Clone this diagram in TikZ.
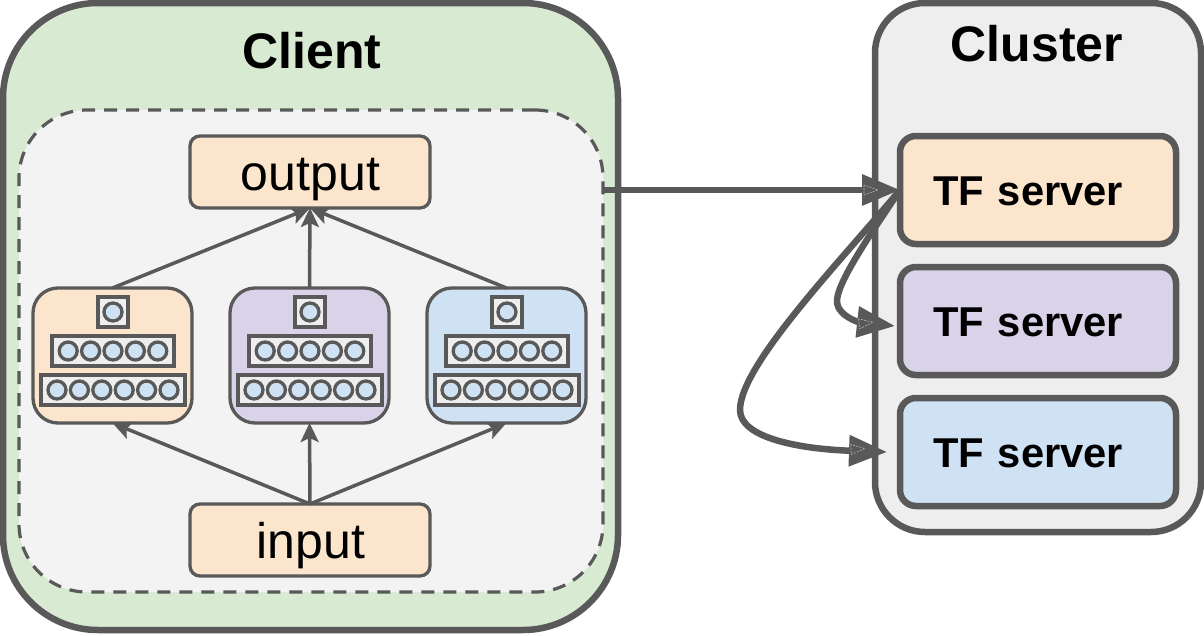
\documentclass[tikz,border=0pt]{standalone}
\usepackage{fontspec}
\setmainfont{Liberation Sans}
\usetikzlibrary{arrows.meta}
\definecolor{ink}{HTML}{595959}
\definecolor{clientgreen}{HTML}{D9EAD3}
\definecolor{panelgray}{HTML}{F3F3F3}
\definecolor{clustergray}{HTML}{EEEEEE}
\definecolor{peach}{HTML}{FCE5CD}
\definecolor{lilac}{HTML}{D9D2E9}
\definecolor{skyblue}{HTML}{CFE2F3}
\newcommand{\rbox}[7]{\node[#1,minimum width=#4-#3,minimum height=#6-#5] (#2) at ({(#3+#4)/2},{(#5+#6)/2}) {#7};}
\newcommand{\headmark}[3]{\draw[white!55!ink,line width=0.6pt,dash pattern=on 2pt off 1.2pt,shift={(#1,#2)},rotate=#3] (-7,-5) -- (-7,5) -- (7,0) -- cycle;}
\tikzset{
  x=1pt,y=-1pt,
  base/.style={draw=ink,inner sep=0pt,outer sep=0pt},
  outerbox/.style={base,line width=6.5pt,rounded corners=#1},
  dashedpanel/.style={base,line width=3.2pt,dash pattern=on 13pt off 9pt,fill=panelgray,rounded corners=68pt},
  iobox/.style={base,line width=3.3pt,rounded corners=10pt,fill=peach,font=\fontsize{50}{60}\selectfont,text height=36pt,text depth=0pt},
  netbox/.style={base,line width=3.3pt,rounded corners=25pt},
  serverbox/.style={base,line width=6.5pt,rounded corners=16pt,font=\fontsize{41.7}{50}\selectfont\bfseries,text height=30pt,text depth=0pt,text width=254pt,align=left},
  layerbox/.style={base,line width=3.5pt,fill=clustergray},
  neuron/.style={base,circle,line width=3.3pt,fill=skyblue,minimum size=18pt},
  title/.style={inner sep=0pt,font=\fontsize{50}{60}\selectfont\bfseries},
  thin link/.style={draw=ink,line width=3.5pt,-{Stealth[length=19pt,width=18pt,inset=4pt]}},
  thick link/.style={draw=ink,line width=6.5pt,-{Triangle[length=38pt,width=30pt]}},
}
\newcommand{\netcontents}[2]{%
  \node[layerbox,minimum width=30pt,minimum height=30pt] (#2a) at (#1,312) {};
  \node[neuron] (#2n) at (#1,312) {};
  \node[layerbox,minimum width=122pt,minimum height=30pt] (#2b) at (#1,351) {};
  \foreach \k in {-2,...,2} {\node[neuron] (#2b\k) at ({#1+\k*22.4},351) {};}
  \node[layerbox,minimum width=144pt,minimum height=30pt] (#2c) at (#1,390) {};
  \foreach \k in {-2.5,-1.5,-0.5,0.5,1.5,2.5} {\node[neuron] (#2c\k) at ({#1+\k*22.4},390) {};}
}
\begin{document}
\begin{tikzpicture}
\useasboundingbox (0,0) rectangle (1204,635);
\rbox{outerbox=95pt,fill=clientgreen}{client}{3}{618}{3}{630}{}
\rbox{dashedpanel}{panel}{19}{603}{110}{592}{}
\node[title] (clienttitle) at (312,51) {Client};
\rbox{iobox}{output}{190}{430}{136}{208}{\hspace*{1pt}output}
\rbox{iobox}{input}{190}{430}{504}{576}{\hspace*{2pt}input}
\rbox{netbox,fill=peach}{neta}{33}{192}{288}{423}{}
\rbox{netbox,fill=lilac}{netb}{230}{389}{288}{423}{}
\rbox{netbox,fill=skyblue}{netc}{427}{586}{288}{423}{}
\netcontents{113}{p}
\netcontents{310}{q}
\netcontents{507}{r}
\draw[thin link] (neta.north) -- (output.south);
\draw[thin link] (netb.north) -- (output.south);
\draw[thin link] (netc.north) -- (output.south);
\draw[thin link] (input.north) -- (neta.south);
\draw[thin link] (input.north) -- (netb.south);
\draw[thin link] (input.north) -- (netc.south);
\rbox{outerbox=50pt,fill=clustergray}{cluster}{875}{1201}{3}{532}{}
\node[title] (clustertitle) at (1037,44) {Cluster};
\rbox{serverbox,fill=peach}{s1}{900}{1176}{136}{244}{\hspace*{22pt}TF server}
\rbox{serverbox,fill=lilac}{s2}{900}{1176}{267}{375}{\hspace*{22pt}TF server}
\rbox{serverbox,fill=skyblue}{s3}{900}{1176}{398}{506}{\hspace*{22pt}TF server}
\coordinate (t2) at (895,326);
\coordinate (t3) at (887,452);
\coordinate (b2) at (837,303);
\coordinate (b3) at (740,410);
\draw[thick link] (panel.east |- s1.west) -- (s1.west);
\draw[thick link] (s1.west) .. controls (870,235) and (835,285) .. (b2) .. controls (839,316) and (858,322) .. (t2);
\draw[thick link] (s1.west) .. controls (840,262) and (740,365) .. (b3) .. controls (740,438) and (800,449) .. (t3);
\headmark{871}{190}{0}
\headmark{866}{323}{6}
\headmark{858}{449}{4}
\end{tikzpicture}
\end{document}
